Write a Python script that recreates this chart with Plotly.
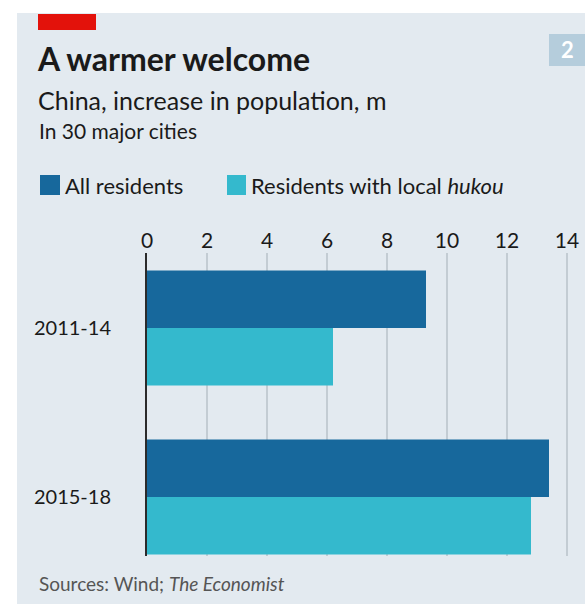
import plotly.graph_objects as go

periods = ['2011-14', '2015-18']
all_residents = [9.3, 13.4]
local_hukou = [6.2, 12.8]
x_ticks = [0, 2, 4, 6, 8, 10, 12, 14]

DARK = '#17689c'
LIGHT = '#34b9cd'
PANEL = '#e3eaf0'
FONT = 'Lato'

W, H = 585, 604
L, R, T, B = 147, 12, 253, 48
pw, ph = W - L - R, H - T - B


def fx(px):
    return (px - L) / pw


def fy(py):
    return (H - B - py) / ph


fig = go.Figure()
fig.add_trace(go.Bar(y=periods, x=all_residents, orientation='h',
                     marker=dict(color=DARK, line_width=0), name='All residents'))
fig.add_trace(go.Bar(y=periods, x=local_hukou, orientation='h',
                     marker=dict(color=LIGHT, line_width=0), name='Residents with local hukou'))

fig.update_layout(
    width=W, height=H,
    margin=dict(l=L, r=R, t=T, b=B, autoexpand=False),
    paper_bgcolor=PANEL, plot_bgcolor=PANEL,
    barmode='group', bargap=0.32, bargroupgap=0,
    showlegend=False,
    font=dict(family=FONT, color='#1a1a1a'),
)
fig.update_xaxes(range=[0, 14.2], side='top', tickvals=x_ticks, automargin=False,
                 showgrid=True, gridcolor='#c3ccd3', gridwidth=1.5,
                 zeroline=False, ticks='', tickfont=dict(size=21, color='#1a1a1a'),
                 fixedrange=True)
fig.update_yaxes(range=[1.349, -0.444], showgrid=False, zeroline=False, automargin=False,
                 showline=True, linecolor='#2b2b2b', linewidth=2, layer='above traces',
                 ticks='', ticklabelstandoff=30, tickfont=dict(size=20, color='#1a1a1a'))

shapes = [
    # white strips around the panel
    dict(type='rect', xref='paper', yref='paper', x0=fx(0), x1=fx(17), y0=fy(H), y1=fy(0),
         fillcolor='white', line_width=0, layer='below'),
    dict(type='rect', xref='paper', yref='paper', x0=fx(0), x1=fx(W), y0=fy(13), y1=fy(0),
         fillcolor='white', line_width=0, layer='below'),
    # red tag
    dict(type='rect', xref='paper', yref='paper', x0=fx(38), x1=fx(96), y0=fy(30), y1=fy(14),
         fillcolor='#e3120b', line_width=0),
    # chart number box
    dict(type='rect', xref='paper', yref='paper', x0=fx(549), x1=fx(585), y0=fy(66), y1=fy(34),
         fillcolor='#b5cddc', line_width=0),
    # legend squares
    dict(type='rect', xref='paper', yref='paper', x0=fx(40), x1=fx(60), y0=fy(195), y1=fy(175),
         fillcolor=DARK, line_width=0),
    dict(type='rect', xref='paper', yref='paper', x0=fx(227), x1=fx(246), y0=fy(195), y1=fy(175),
         fillcolor=LIGHT, line_width=0),
]
fig.update_layout(shapes=shapes)


def note(text, x, y, size, color='#1a1a1a', xanchor='left'):
    fig.add_annotation(text=text, xref='paper', yref='paper', x=fx(x), y=fy(y),
                       xanchor=xanchor, yanchor='middle', showarrow=False,
                       font=dict(family=FONT, size=size, color=color))


note('<b>A warmer welcome</b>', 35, 58, 32)
note('China, increase in population, m', 36, 100, 25)
note('In 30 major cities', 37, 130, 21)
note('All residents', 63, 185, 22)
note('Residents with local <i>hukou</i>', 249, 185, 22)
note('Sources: Wind; <i>The Economist</i>', 37, 583, 19, color='#555555')
note('<b>2</b>', 567, 49, 22, color='white', xanchor='center')

# drop the page's default body margin so the figure sits at the window's corner
fig.write_html("out.html", config={'displayModeBar': False},
               post_script="document.body.style.margin='0';")
